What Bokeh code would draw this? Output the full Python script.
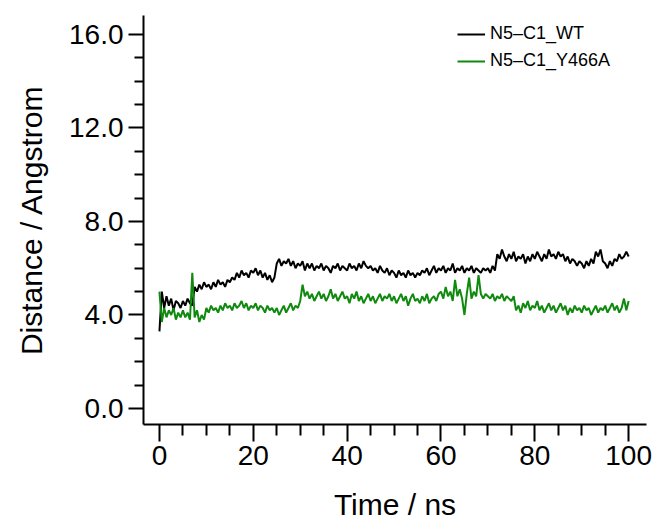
from bokeh.plotting import figure
from bokeh.models import FixedTicker, PrintfTickFormatter, Legend, LegendItem, Range1d
from bokeh.embed import file_html
from bokeh.resources import INLINE

# sampling times (ns), every 0.5 ns from 0 to 100
time_ns = [i * 0.5 for i in range(201)]

wt = [
    3.3, 5.0, 4.3, 4.8, 4.4, 4.7, 4.2, 4.6, 4.5, 4.3,
    4.6, 4.4, 4.7, 4.5, 4.4, 5.2, 5.0, 5.3, 5.1, 5.4,
    5.2, 5.3, 5.1, 5.4, 5.2, 5.5, 5.3, 5.4, 5.2, 5.5,
    5.4, 5.6, 5.5, 5.8, 5.6, 5.9, 5.7, 5.8, 5.6, 5.9,
    5.8, 6.0, 5.7, 5.9, 5.6, 5.8, 5.5, 5.7, 5.4, 5.6,
    6.2, 6.4, 6.1, 6.3, 6.2, 6.4, 6.1, 6.3, 6.0, 6.2,
    6.1, 6.3, 5.9, 6.2, 6.0, 6.2, 5.9, 6.1, 6.0, 6.2,
    5.9, 6.1, 6.0, 5.8, 6.1, 6.0, 6.2, 5.9, 6.1, 6.0,
    5.9, 6.2, 6.0, 6.1, 5.9, 6.2, 6.0, 6.3, 6.1, 6.0,
    6.1, 5.9, 6.0, 5.8, 6.1, 5.9, 5.8, 6.0, 5.7, 5.9,
    5.8, 5.6, 5.9, 5.7, 5.8, 5.6, 5.9, 5.7, 5.8, 5.6,
    5.8, 5.7, 5.9, 5.8, 6.0, 5.7, 5.9, 6.1, 5.8, 6.0,
    5.9, 6.1, 5.8, 6.0, 5.9, 6.2, 5.8, 6.0, 5.9, 6.1,
    5.8, 6.0, 5.9, 6.1, 5.8, 6.0, 5.9, 5.8, 6.0, 5.9,
    6.0, 5.8, 6.1, 5.9, 6.6, 6.4, 6.8, 6.5, 6.3, 6.6,
    6.4, 6.7, 6.3, 6.5, 6.4, 6.6, 6.2, 6.5, 6.3, 6.6,
    6.4, 6.7, 6.5, 6.3, 6.6, 6.4, 6.8, 6.5, 6.6, 6.4,
    6.7, 6.5, 6.6, 6.3, 6.5, 6.2, 6.4, 6.3, 6.1, 6.3,
    6.2, 6.0, 6.3, 6.1, 6.4, 6.2, 6.7, 6.5, 6.8, 6.3,
    6.2, 6.0, 6.3, 6.1, 6.4, 6.3, 6.6, 6.4, 6.5, 6.7,
    6.5,
]

y466a = [
    5.0, 3.7, 4.3, 3.9, 4.2, 4.0, 4.3, 3.8, 4.1, 3.9,
    4.2, 3.9, 4.1, 3.8, 5.8, 3.9, 4.2, 3.7, 4.0, 3.8,
    4.3, 4.1, 4.4, 4.2, 4.3, 4.1, 4.4, 4.2, 4.5, 4.3,
    4.4, 4.2, 4.5, 4.3, 4.4, 4.6, 4.3, 4.5, 4.2, 4.4,
    4.3, 4.5, 4.2, 4.4, 4.3, 4.1, 4.4, 4.2, 4.3, 4.1,
    4.3, 4.0, 4.2, 4.4, 4.1, 4.3, 4.5, 4.2, 4.4, 4.3,
    4.6, 5.3, 4.8, 5.0, 4.7, 4.9, 4.6, 4.8, 5.0, 4.7,
    4.9, 4.6, 4.8, 5.1, 4.7, 4.9, 4.6, 4.8, 5.0, 4.7,
    4.8, 4.5, 4.9, 4.7, 5.0, 4.6, 4.8, 4.5, 4.7, 4.9,
    4.6, 4.8, 4.5, 4.7, 4.9, 4.6, 4.8, 4.7, 4.9, 4.6,
    4.8, 4.5, 4.7, 4.9, 4.6, 4.8, 4.4, 4.7, 4.9, 4.6,
    4.7, 4.5, 4.8, 4.6, 4.9, 4.5, 4.7, 4.8, 4.6, 4.9,
    5.0, 4.7, 5.2, 4.8, 5.0, 4.6, 5.5, 4.8, 5.1, 4.7,
    4.0, 4.9, 5.6, 4.7, 5.0, 4.8, 5.7, 4.9, 4.7, 4.9,
    4.8, 4.7, 4.9, 4.6, 4.8, 4.7, 4.9, 4.6, 4.8, 4.7,
    4.6, 4.8, 4.2, 4.4, 4.1, 4.5, 4.3, 4.6, 4.2, 4.4,
    4.3, 4.6, 4.2, 4.4, 4.1, 4.3, 4.5, 4.2, 4.4, 4.1,
    4.3, 4.5, 4.2, 4.4, 4.0, 4.3, 4.1, 4.4, 4.2, 4.3,
    4.1, 4.4, 4.2, 4.3, 4.0, 4.2, 4.4, 4.1, 4.3, 4.2,
    4.4, 4.1, 4.3, 4.5, 4.2, 4.4, 4.1, 4.3, 4.7, 4.2,
    4.6,
]

y_ticks = [0, 4, 8, 12, 16]
y_minor = [1, 2, 3, 5, 6, 7, 9, 10, 11, 13, 14, 15]
x_ticks = [0, 20, 40, 60, 80, 100]
x_minor = [5, 10, 15, 25, 30, 35, 45, 50, 55, 65, 70, 75, 85, 90, 95]
labels = ["N5\u2013C1_WT", "N5\u2013C1_Y466A"]

FONT = "Liberation Sans"

p = figure(width=659, height=525, output_backend="svg", toolbar_location=None,
           x_range=Range1d(-3.4, 103.8), y_range=Range1d(-0.68, 16.8),
           min_border_left=143, min_border_right=13, min_border_top=15, min_border_bottom=101)
p.outline_line_color = None
p.grid.visible = False
p.background_fill_color = "white"
p.border_fill_color = "white"

r1 = p.line(time_ns, wt, line_color="black", line_width=2)
r2 = p.line(time_ns, y466a, line_color="#0f8a0f", line_width=2)

for ax in (p.xaxis[0], p.yaxis[0]):
    ax.axis_line_width = 2
    ax.major_tick_line_width = 2
    ax.minor_tick_line_width = 2
    ax.major_tick_in = 0
    ax.minor_tick_in = 0
    ax.major_label_text_font = FONT
    ax.major_label_text_font_size = "28px"
    ax.major_label_text_color = "black"
    ax.axis_label_text_font = FONT
    ax.axis_label_text_font_size = "30px"
    ax.axis_label_text_font_style = "normal"
    ax.axis_label_text_color = "black"

p.xaxis.major_tick_out = 17
p.xaxis.minor_tick_out = 11
p.yaxis.major_tick_out = 15
p.yaxis.minor_tick_out = 9

p.xaxis.ticker = FixedTicker(ticks=x_ticks, minor_ticks=x_minor)
p.yaxis.ticker = FixedTicker(ticks=y_ticks, minor_ticks=y_minor)
p.yaxis.formatter = PrintfTickFormatter(format="%.1f")
p.xaxis.axis_label = "Time / ns"
p.yaxis.axis_label = "Distance / Angstrom"
p.xaxis.major_label_standoff = 4
p.yaxis.major_label_standoff = 5
p.xaxis.axis_label_standoff = 20
p.yaxis.axis_label_standoff = 18

legend = Legend(items=[LegendItem(label=labels[0], renderers=[r1]),
                       LegendItem(label=labels[1], renderers=[r2])],
                location=(314, 353))
legend.border_line_color = None
legend.background_fill_alpha = 0
legend.padding = 0
legend.margin = 0
legend.spacing = 6
legend.glyph_width = 28
legend.glyph_height = 18
legend.label_height = 18
legend.label_standoff = 5
legend.label_text_font = FONT
legend.label_text_font_size = "18px"
legend.label_text_color = "black"
p.add_layout(legend)

open("out.html", "w").write(file_html(p, INLINE))
